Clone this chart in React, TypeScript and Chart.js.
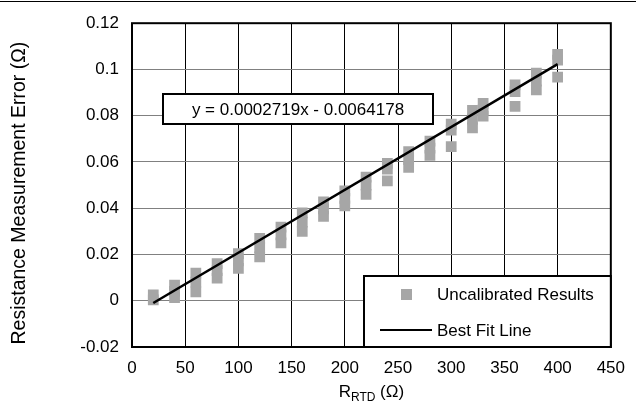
import React, { useEffect, useRef } from "react";
import { Chart, registerables } from "chart.js";

Chart.register(...registerables);

// ---- data ----
const rtdLevels = [20, 40, 60, 80, 100, 120, 140, 160, 180, 200, 220, 240, 260, 280, 300, 320, 330, 360, 380, 400];
const errorsAtLevel = [
  [0.0025, 0.0004],
  [0.0068, 0.004, 0.0013],
  [0.0119, 0.008, 0.0038],
  [0.016, 0.013, 0.0098],
  [0.0204, 0.0172, 0.014],
  [0.027, 0.023, 0.019],
  [0.0318, 0.0285, 0.025],
  [0.038, 0.034, 0.03],
  [0.0428, 0.0397, 0.0365],
  [0.0475, 0.0443, 0.041],
  [0.0535, 0.05, 0.046],
  [0.0594, 0.0569, 0.0518],
  [0.0645, 0.061, 0.0577],
  [0.069, 0.066, 0.0628],
  [0.0764, 0.0738, 0.0666],
  [0.0823, 0.0785, 0.0747],
  [0.0853, 0.0825, 0.0798],
  [0.0933, 0.0904, 0.084],
  [0.0984, 0.095, 0.0912],
  [0.1065, 0.104, 0.0967],
];
const fitLineX = [20, 400];
const fitLineY = [-0.00098, 0.10233];
const yTickLabels = ["-0.02", "0", "0.02", "0.04", "0.06", "0.08", "0.1", "0.12"];
const seriesNames = ["Uncalibrated Results", "Best Fit Line"];
const equationText = "y = 0.0002719x - 0.0064178";
const yAxisTitle = "Resistance Measurement Error (Ω)";
const xAxisTitleMain = "R";
const xAxisTitleSub = "RTD";
const xAxisTitleTail = " (Ω)";

const FONT = '"Liberation Sans", Arial, sans-serif';
const GRAY = "#a6a6a6";

const decorPlugin = {
  id: "decor",
  afterDraw(chart: any) {
    const { ctx, chartArea: a, width } = chart;
    ctx.save();
    // top rule
    ctx.fillStyle = "#000";
    ctx.fillRect(0, 1, width, 1);
    // plot frame
    ctx.strokeStyle = "#000";
    ctx.lineWidth = 2;
    ctx.strokeRect(a.left, a.top, a.right - a.left, a.bottom - a.top);

    // equation box
    const ex = 163, ey = 94, ew = 270, eh = 30;
    ctx.fillStyle = "#fff";
    ctx.fillRect(ex, ey, ew, eh);
    ctx.lineWidth = 2;
    ctx.strokeRect(ex, ey, ew, eh);
    ctx.fillStyle = "#000";
    ctx.font = `17px ${FONT}`;
    ctx.textAlign = "center";
    ctx.textBaseline = "middle";
    ctx.fillText(equationText, ex + ew / 2, ey + eh / 2 + 1);

    // legend box
    const lx = 364, ly = 276, lr = a.right, lb = a.bottom;
    ctx.fillStyle = "#fff";
    ctx.fillRect(lx, ly, lr - lx, lb - ly);
    ctx.strokeStyle = "#000";
    ctx.lineWidth = 2;
    ctx.strokeRect(lx, ly, lr - lx, lb - ly);
    ctx.fillStyle = GRAY;
    ctx.fillRect(401, 289, 11, 11);
    ctx.beginPath();
    ctx.moveTo(380, 330);
    ctx.lineTo(432, 330);
    ctx.strokeStyle = "#000";
    ctx.lineWidth = 2;
    ctx.stroke();
    ctx.fillStyle = "#000";
    ctx.font = `17px ${FONT}`;
    ctx.textAlign = "left";
    ctx.textBaseline = "middle";
    ctx.fillText(seriesNames[0], 437, 295);
    ctx.fillText(seriesNames[1], 437, 331);

    // y axis title
    ctx.save();
    ctx.translate(20, (a.top + a.bottom) / 2 + 8);
    ctx.rotate(-Math.PI / 2);
    ctx.font = `19.5px ${FONT}`;
    ctx.textAlign = "center";
    ctx.textBaseline = "middle";
    ctx.fillText(yAxisTitle, 0, 0);
    ctx.restore();

    // x axis title with subscript
    const big = `17px ${FONT}`;
    const small = `12px ${FONT}`;
    ctx.font = big;
    const w1 = ctx.measureText(xAxisTitleMain).width;
    const w3 = ctx.measureText(xAxisTitleTail).width;
    ctx.font = small;
    const w2 = ctx.measureText(xAxisTitleSub).width;
    const total = w1 + w2 + w3;
    let x = (a.left + a.right) / 2 - total / 2;
    const by = 397;
    ctx.textAlign = "left";
    ctx.textBaseline = "alphabetic";
    ctx.font = big;
    ctx.fillText(xAxisTitleMain, x, by);
    x += w1;
    ctx.font = small;
    ctx.fillText(xAxisTitleSub, x, by + 4);
    x += w2;
    ctx.font = big;
    ctx.fillText(xAxisTitleTail, x, by);
    ctx.restore();
  },
};

export default function App() {
  const ref = useRef<HTMLCanvasElement | null>(null);
  useEffect(() => {
    if (!ref.current) return;
    const points: { x: number; y: number }[] = [];
    rtdLevels.forEach((r, i) => errorsAtLevel[i].forEach((e) => points.push({ x: r, y: e })));
    const line = fitLineX.map((x, i) => ({ x, y: fitLineY[i] }));
    const chart = new Chart(ref.current, {
      type: "scatter",
      data: {
        datasets: [
          {
            label: seriesNames[0],
            data: points,
            pointStyle: "rect",
            pointRadius: 7.6,
            pointBackgroundColor: GRAY,
            pointBorderWidth: 0,
            backgroundColor: GRAY,
            borderColor: GRAY,
            order: 2,
          },
          {
            type: "line",
            label: seriesNames[1],
            data: line,
            borderColor: "#000",
            borderWidth: 2.5,
            pointRadius: 0,
            showLine: true,
            fill: false,
            order: 1,
          } as any,
        ],
      },
      options: {
        animation: false,
        responsive: false,
        devicePixelRatio: 1,
        layout: { padding: { left: 0, top: 17, right: 16, bottom: 0 } },
        plugins: { legend: { display: false }, tooltip: { enabled: false } },
        scales: {
          x: {
            type: "linear",
            min: 0,
            max: 450,
            ticks: { stepSize: 50, color: "#000", font: { family: FONT, size: 17 }, padding: 11 },
            grid: { color: "#000", lineWidth: 1, drawTicks: false },
            border: { display: false },
            afterFit: (s: any) => { s.height = 63; },
          },
          y: {
            type: "linear",
            min: -0.02,
            max: 0.12,
            ticks: {
              stepSize: 0.02,
              color: "#000",
              font: { family: FONT, size: 17 },
              padding: 13,
              callback: (_v: any, i: number) => yTickLabels[i],
            },
            grid: { color: "#808080", lineWidth: 1, drawTicks: false },
            border: { display: false },
            afterFit: (s: any) => { s.width = 132; },
          },
        },
      },
      plugins: [decorPlugin],
    });
    return () => chart.destroy();
  }, []);
  return (
    <div style={{ position: "absolute", left: 0, top: 0, width: 636, height: 410, background: "#fff" }}>
      <canvas ref={ref} width={636} height={410} style={{ display: "block" }} />
    </div>
  );
}
